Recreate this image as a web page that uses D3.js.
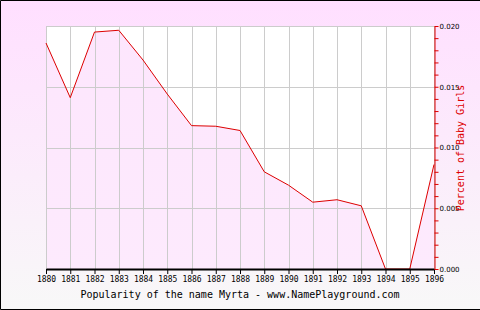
<!doctype html>
<html>
<head>
<meta charset="utf-8">
<title>Popularity of Myrta</title>
<script src="https://cdnjs.cloudflare.com/ajax/libs/d3/7.8.5/d3.min.js"></script>
<style>
  body { margin: 0; }
  svg { display: block; }
</style>
</head>
<body>
<div id="chart"></div>
<script>
// data
const years = [1880, 1881, 1882, 1883, 1884, 1885, 1886, 1887, 1888, 1889, 1890, 1891, 1892, 1893, 1894, 1895, 1896];
const percents = [0.0186, 0.0141, 0.0195, 0.01965, 0.0172, 0.0144, 0.0118, 0.01175, 0.0114, 0.0080, 0.0069, 0.0055, 0.0057, 0.0052, 0, 0, 0.0086];
const yTicks = [0, 0.005, 0.010, 0.015, 0.020];
const title = "Popularity of the name Myrta - www.NamePlayground.com";
const yTitle = "Percent of Baby Girls";

const W = 480, H = 310;
const svg = d3.select('#chart').append('svg').attr('width', W).attr('height', H);

const defs = svg.append('defs');
const bg = defs.append('linearGradient').attr('id', 'bg').attr('x1', 0).attr('y1', 0).attr('x2', 0).attr('y2', 1);
bg.append('stop').attr('offset', 0).attr('stop-color', '#ffdfff');
bg.append('stop').attr('offset', 1).attr('stop-color', '#f8f8f8');
const fillG = defs.append('linearGradient').attr('id', 'fillg').attr('x1', 0).attr('y1', 0).attr('x2', 0).attr('y2', 1);
fillG.append('stop').attr('offset', 0).attr('stop-color', '#fde6fd');
fillG.append('stop').attr('offset', 1).attr('stop-color', '#fdeafd');

svg.append('rect').attr('width', W).attr('height', H).attr('fill', 'url(#bg)');

const x = d3.scaleLinear().domain([1880, 1896]).range([46, 434]);
const y = d3.scaleLinear().domain([0, 0.020]).range([269, 26]);

// plot area
svg.append('rect').attr('x', 46).attr('y', 26).attr('width', 388).attr('height', 243).attr('fill', '#fff');

const pts = years.map((yr, i) => [yr, percents[i]]);
svg.append('path')
  .datum(pts)
  .attr('fill', 'url(#fillg)')
  .attr('d', d3.area().x(d => x(d[0])).y0(y(0)).y1(d => y(d[1])));

// grid
svg.append('g').selectAll('line').data(years).join('line')
  .attr('x1', d => Math.round(x(d)) + 0.5).attr('x2', d => Math.round(x(d)) + 0.5)
  .attr('y1', 26).attr('y2', 269)
  .attr('stroke', '#cccccc');
svg.append('g').selectAll('line').data(yTicks).join('line')
  .attr('x1', 46).attr('x2', 434)
  .attr('y1', d => Math.round(y(d)) + 0.5).attr('y2', d => Math.round(y(d)) + 0.5)
  .attr('stroke', '#cccccc');

// line
svg.append('path')
  .datum(pts)
  .attr('fill', 'none')
  .attr('stroke', '#dd0000')
  .attr('stroke-width', 1)
  .attr('d', d3.line().x(d => x(d[0])).y(d => y(d[1])));

// x axis (drawn over the line)
const xAxis = svg.append('g')
  .attr('transform', 'translate(0,269)')
  .call(d3.axisBottom(x).tickValues(years).tickFormat(d3.format('d')).tickSize(5).tickSizeOuter(0));
xAxis.select('.domain').attr('stroke', '#000').attr('stroke-width', 2);
xAxis.selectAll('.tick line').attr('stroke', '#000');
xAxis.selectAll('text')
  .attr('fill', '#000')
  .attr('y', 7)
  .style('font-family', 'DejaVu Sans Mono')
  .style('font-size', '8px');

// y axis on the right
const yAxis = svg.append('g')
  .attr('transform', 'translate(434.5,0)')
  .call(d3.axisRight(y).ticks(16).tickFormat(d => yTicks.some(t => Math.abs(t - d) < 1e-9) ? d3.format('.3f')(d) : '').tickSize(4).tickSizeOuter(0));
yAxis.select('.domain').attr('stroke', '#dd0000');
yAxis.selectAll('.tick line').attr('stroke', '#dd0000');
yAxis.selectAll('text')
  .attr('fill', '#000')
  .attr('x', 5)
  .style('font-family', 'DejaVu Sans')
  .style('font-size', '7px');

svg.append('text')
  .attr('transform', 'translate(464,148) rotate(-90)')
  .attr('text-anchor', 'middle')
  .attr('fill', '#dd0000')
  .style('font-family', 'DejaVu Sans Mono')
  .style('font-size', '10px')
  .text(yTitle);

svg.append('text')
  .attr('x', 240).attr('y', 298)
  .attr('text-anchor', 'middle')
  .attr('fill', '#000')
  .style('font-family', 'DejaVu Sans Mono')
  .style('font-size', '10px')
  .text(title);

// frame (left, top, bottom)
svg.append('path')
  .attr('d', `M${W},0.5 H0.5 V${H - 0.5} H${W}`)
  .attr('fill', 'none')
  .attr('stroke', '#000')
  .attr('stroke-width', 1);
</script>
</body>
</html>
